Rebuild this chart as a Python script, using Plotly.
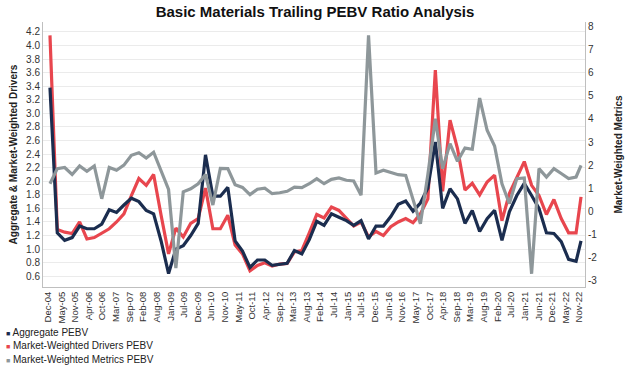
import pandas as pd
import plotly.graph_objects as go

# ---------------- data ----------------
dates = list(pd.date_range("2004-12-31", periods=72, freq="QE").strftime("%Y-%m-%d")) + ["2022-11-30"]

aggregate_pebv = [
    3.38, 1.24, 1.13, 1.17, 1.34, 1.30, 1.30, 1.37, 1.58, 1.54,
    1.65, 1.75, 1.70, 1.57, 1.52, 1.12, 0.64, 1.00, 1.05, 1.20,
    1.38, 2.39, 1.78, 1.78, 1.91, 1.12, 0.97, 0.73, 0.84, 0.84,
    0.76, 0.78, 0.79, 0.98, 0.93, 1.14, 1.41, 1.35, 1.52, 1.47,
    1.42, 1.35, 1.42, 1.15, 1.34, 1.34, 1.48, 1.66, 1.71, 1.56,
    1.68, 1.90, 2.58, 1.60, 1.89, 1.74, 1.38, 1.57, 1.26, 1.45,
    1.57, 1.13, 1.55, 1.79, 1.97, 1.79, 1.60, 1.24, 1.23, 1.11,
    0.85, 0.82, 1.12,
]

drivers_pebv = [
    4.15, 1.29, 1.25, 1.23, 1.40, 1.15, 1.17, 1.23, 1.30, 1.40,
    1.52, 1.79, 2.04, 1.94, 2.10, 1.50, 0.93, 1.31, 1.18, 1.38,
    1.45, 1.90, 1.30, 1.30, 1.50, 1.06, 0.93, 0.68, 0.76, 0.80,
    0.75, 0.78, 0.79, 0.96, 0.98, 1.24, 1.51, 1.46, 1.62, 1.57,
    1.45, 1.34, 1.40, 1.18, 1.26, 1.20, 1.33, 1.40, 1.45, 1.39,
    1.52, 1.74, 3.64, 1.85, 2.90, 2.48, 1.87, 1.97, 1.80, 1.99,
    2.09, 1.42, 1.82, 2.06, 2.29, 1.94, 1.79, 1.51, 1.73, 1.45,
    1.24, 1.24, 1.77,
]

metrics_pebv = [
    1.20, 1.85, 1.90, 1.60, 1.97, 1.74, 1.97, 0.55, 1.90, 1.78,
    2.00, 2.43, 2.54, 2.31, 2.56, 1.72, 0.95, -2.45, 0.85, 0.98,
    1.20, 1.60, 0.28, 1.86, 1.85, 1.16, 1.04, 0.73, 0.96, 1.01,
    0.77, 0.81, 0.87, 1.05, 1.03, 1.20, 1.42, 1.20, 1.39, 1.45,
    1.35, 1.32, 0.70, 7.61, 1.66, 1.78, 1.70, 1.59, 1.56, 0.55,
    -0.53, 1.60, 4.01, 1.85, 2.93, 2.17, 2.74, 2.69, 4.90, 3.51,
    2.83, 1.20, 0.34, 1.42, 1.45, -2.69, 1.85, 1.49, 1.85, 1.64,
    1.42, 1.49, 1.99,
]

tick_labels = [
    "Dec-04", "May-05", "Nov-05", "Apr-06", "Oct-06", "Mar-07", "Sep-07", "Feb-08",
    "Aug-08", "Jan-09", "Jul-09", "Dec-09", "Jun-10", "Nov-10", "May-11", "Oct-11",
    "Apr-12", "Sep-12", "Mar-13", "Aug-13", "Feb-14", "Jul-14", "Jan-15", "Jul-15",
    "Dec-15", "Jun-16", "Nov-16", "May-17", "Oct-17", "Apr-18", "Sep-18", "Mar-19",
    "Aug-19", "Feb-20", "Jul-20", "Jan-21", "Jun-21", "Dec-21", "May-22", "Nov-22",
]

left_ticks = [0.6, 0.8, 1.0, 1.2, 1.4, 1.6, 1.8, 2.0, 2.2, 2.4, 2.6, 2.8, 3.0, 3.2, 3.4, 3.6, 3.8, 4.0, 4.2]
right_ticks = [-3, -2, -1, 0, 1, 2, 3, 4, 5, 6, 7, 8]

series_names = ["Aggregate PEBV", "Market-Weighted Drivers PEBV", "Market-Weighted Metrics PEBV"]
series_colors = ["#1b2d4f", "#e8464e", "#8e979a"]

# ---------------- figure ----------------
FONT = "Liberation Sans, Arial, sans-serif"

tick_dates = [pd.Timestamp("2004-12-05") + pd.Timedelta(days=167.9 * k) for k in range(len(tick_labels))]

fig = go.Figure()
fig.add_trace(go.Scatter(x=dates, y=metrics_pebv, name=series_names[2], yaxis="y2",
                         mode="lines", line=dict(color=series_colors[2], width=3.2)))
fig.add_trace(go.Scatter(x=dates, y=drivers_pebv, name=series_names[1], yaxis="y",
                         mode="lines", line=dict(color=series_colors[1], width=3.2)))
fig.add_trace(go.Scatter(x=dates, y=aggregate_pebv, name=series_names[0], yaxis="y",
                         mode="lines", line=dict(color=series_colors[0], width=3.2)))

legend_y = [-0.1725, -0.2215, -0.2717]
annotations = []
for name, color, yy in zip(series_names, series_colors, legend_y):
    annotations.append(dict(
        xref="paper", yref="paper", x=(3.5 - 43) / 542, y=yy, xanchor="left", yanchor="middle",
        showarrow=False, align="left",
        text=f'<span style="color:{color};font-size:7px">■</span> {name}',
        font=dict(family=FONT, size=10, color="#222222"),
    ))

fig.update_layout(
    width=630, height=366,
    margin=dict(l=43, r=45, t=22, b=79),
    paper_bgcolor="white", plot_bgcolor="white",
    showlegend=False,
    font=dict(family=FONT, color="#333333"),
    title=dict(text="<b>Basic Materials Trailing PEBV Ratio Analysis</b>", x=0.5, xanchor="center",
               y=1 - 12 / 366, yanchor="middle", yref="container",
               font=dict(family=FONT, size=15, color="#111111")),
    xaxis=dict(type="date", range=["2004-10-06", "2023-01-18"],
               tickmode="array", tickvals=tick_dates, ticktext=tick_labels, tickangle=-90,
               tickfont=dict(family=FONT, size=9.5, color="#333333"),
               showgrid=False, showline=True, linecolor="#bfbfbf", linewidth=1,
               ticks="", zeroline=False, automargin=False),
    yaxis=dict(range=[0.442, 4.347], tickmode="array", tickvals=left_ticks,
               ticktext=[f"{v:.1f}" for v in left_ticks],
               tickfont=dict(family=FONT, size=10, color="#333333"),
               showgrid=True, gridcolor="#ebebeb", gridwidth=1,
               showline=True, linecolor="#bfbfbf", linewidth=1, zeroline=False, ticks="",
               automargin=False,
               title=dict(text="<b>Aggregate & Market-Weighted Drivers</b>", standoff=6,
                          font=dict(family=FONT, size=10, color="#222222"))),
    yaxis2=dict(range=[-3.262, 8.186], overlaying="y", side="right", anchor="x",
                tickmode="array", tickvals=right_ticks, ticktext=[str(v) for v in right_ticks],
                tickfont=dict(family=FONT, size=10, color="#333333"),
                showgrid=False, showline=True, linecolor="#bfbfbf", linewidth=1,
                zeroline=False, ticks="", automargin=False,
                title=dict(text="<b>Market-Weighted Metrics</b>", standoff=18,
                           font=dict(family=FONT, size=10, color="#222222"))),
    annotations=annotations,
)

fig.write_html("out.html", config={"displayModeBar": False},
               post_script="document.body.style.margin='0px';")
